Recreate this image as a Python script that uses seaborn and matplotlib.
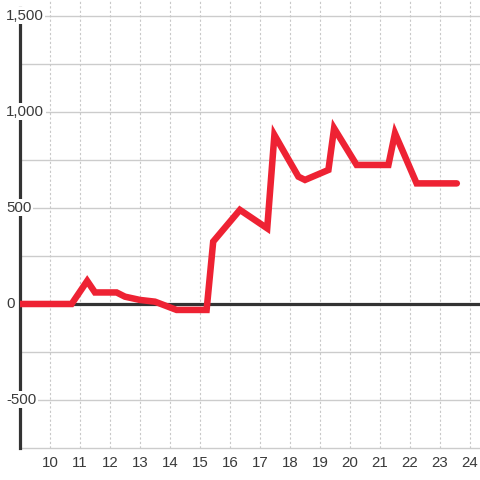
import numpy as np
import pandas as pd
import matplotlib
matplotlib.use("Agg")
import matplotlib.pyplot as plt
import matplotlib.transforms as mtransforms
import seaborn as sns

# values
hours = [9.0, 10.72, 11.24, 11.5, 12.22, 12.5, 13.0, 13.5, 14.22, 15.22,
         15.44, 16.33, 17.24, 17.48, 18.28, 18.5, 19.28, 19.47, 20.22,
         21.28, 21.5, 22.22, 23.56]
values = [0, 0, 120, 60, 60, 38, 21, 12, -31, -31,
          325, 490, 394, 880, 663, 646, 698, 915, 724,
          724, 889, 628, 628]
x_ticks = list(range(10, 25))
y_labels = [-500, 0, 500, 1000, 1500]

df = pd.DataFrame({"hour": hours, "value": values})

sns.set_theme(style="white")
plt.rcParams["font.family"] = ["Liberation Sans", "DejaVu Sans"]

fig = plt.figure(figsize=(4.8, 4.8), dpi=100)
ax = fig.add_axes([20 / 480, 32 / 480, 460 / 480, 448 / 480])

sns.lineplot(data=df, x="hour", y="value", ax=ax, color="#ee2233",
             linewidth=4.7, solid_joinstyle="miter", zorder=4)

ax.set_xlim(9.0, 24.333)
ax.set_ylim(-750, 1583)

# grid
for v in np.arange(-500, 1501, 250):
    ax.axhline(v, color="#cccccc", lw=1, zorder=1)
for t in x_ticks:
    ax.axvline(t, color="#c8c8c8", lw=0.8, ls=(0, (2, 2)), zorder=1)
ax.axhline(0, color="#333333", lw=2.3, zorder=3)

for s in ["top", "right"]:
    ax.spines[s].set_visible(False)
ax.spines["bottom"].set_color("#cccccc")
ax.spines["bottom"].set_linewidth(1)
ax.spines["left"].set_color("#333333")
ax.spines["left"].set_linewidth(2.3)
ax.spines["left"].set_bounds(-750, 1542)
ax.spines["left"].set_zorder(3)

ax.set_xticks(x_ticks)
ax.set_xticklabels([str(t) for t in x_ticks])
ax.tick_params(axis="x", length=0, pad=6, labelsize=10.8, labelcolor="#3a3a3a")
ax.set_yticks([])
ax.set_xlabel("")
ax.set_ylabel("")

trans = mtransforms.blended_transform_factory(fig.transFigure, ax.transData)
for v in y_labels:
    ax.text(6 / 480, v, f"{v:,}", transform=trans, ha="left", va="center",
            fontsize=10.8, color="#3a3a3a", zorder=6, clip_on=False,
            bbox=dict(boxstyle="square,pad=0.1", fc="white", ec="none"))

fig.savefig("out.png", dpi=100, facecolor="white")
